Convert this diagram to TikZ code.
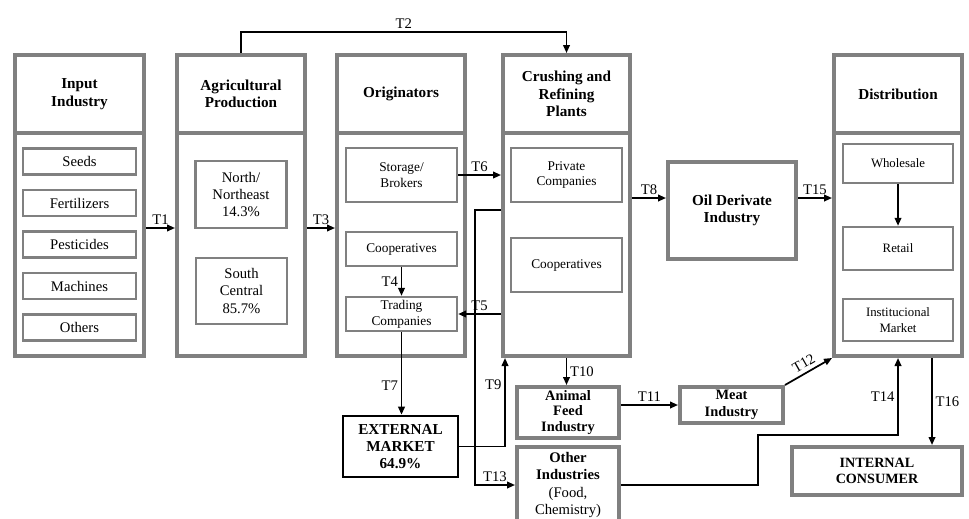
\documentclass[tikz,border=0pt]{standalone}
\usepackage{fontspec}
\setmainfont{Liberation Serif}
\usetikzlibrary{arrows.meta, calc, positioning}

\begin{document}
\begin{tikzpicture}[x=0.75pt, y=-0.75pt]
    % --- Styles ---
    \tikzset{boxsize/.style 2 args={minimum width=#1*0.75pt, minimum height=#2*0.75pt}}
    \tikzstyle{stage_box}=[
        draw=gray,
        line width=3pt,
        fill=white,
        inner sep=1pt,
        align=center,
        font=\fontsize{11.4}{13}\selectfont\bfseries
    ]
    \tikzstyle{sub_box}=[draw=gray, line width=1.8pt, fill=white, inner sep=1pt, align=center, font=\fontsize{11}{12.8}\selectfont]
    \tikzstyle{small_box}=[sub_box, font=\fontsize{10}{11.8}\selectfont]
    \tikzstyle{dist_box}=[sub_box, font=\fontsize{9.6}{11.5}\selectfont]
    \tikzstyle{ext_box}=[stage_box, draw=black, line width=2pt]
    \tikzstyle{flow}=[-{Triangle[length=6pt, width=5pt]}, line width=1.3pt, black]
    \tikzstyle{tlabel}=[font=\fontsize{11}{13}\selectfont, inner sep=2pt]

    \useasboundingbox (0,0) rectangle (969,518);
    \clip (0,0) rectangle (969,518);

    % --- 1. Input Industry ---
    \node[stage_box, boxsize={129}{223}] (inBody) at (79.5,244.5) {};
    \node[stage_box, boxsize={129}{78}] (inHead) at (79.5,94) {Input\\Industry};
    \foreach \name/\txt [count=\i from 0] in {seeds/Seeds, fert/Fertilizers, pest/Pesticides, mach/Machines, others/Others}
        \node[sub_box, boxsize={113}{26}] (\name) at (79.5,161.5+41.5*\i) {\txt};

    % --- 2. Agricultural Production ---
    \node[stage_box, boxsize={128}{223}] (agBody) at (241,244.5) {};
    \node[stage_box, boxsize={128}{78}] (agHead) at (241,94) {Agricultural\\Production};
    \node[sub_box, boxsize={91}{67}] (nne) at (241,194.5) {North/\\Northeast\\14.3\%};
    \node[sub_box, boxsize={91}{66}] (sc) at (241.5,291) {South\\Central\\85.7\%};

    % --- 3. Originators ---
    \node[stage_box, boxsize={128}{223}] (orBody) at (401,244.5) {};
    \node[stage_box, boxsize={128}{78}] (orHead) at (401,94) {Originators};
    \node[small_box, boxsize={111}{54}] (stor) at (401.5,175) {Storage/\\Brokers};
    \node[small_box, boxsize={111}{34}] (coopO) at (401.5,249) {Cooperatives};
    \node[small_box, boxsize={111}{34}, inner sep=0pt] (trad) at (401.5,314) {Trading\\Companies};

    % --- 4. Crushing and Refining Plants ---
    \node[stage_box, boxsize={127}{223}] (crBody) at (566.5,244.5) {};
    \node[stage_box, boxsize={127}{78}] (crHead) at (566.5,94) {Crushing and\\Refining\\Plants};
    \node[small_box, boxsize={111}{54}] (priv) at (566.5,175) {Private\\Companies};
    \node[small_box, boxsize={111}{54}] (coopC) at (566.5,265) {Cooperatives};

    % --- 5. Oil Derivate Industry and Distribution ---
    \node[stage_box, boxsize={128}{97}] (oil) at (732,210.5) {Oil Derivate\\Industry};
    \node[stage_box, boxsize={128}{223}] (diBody) at (898,244.5) {};
    \node[stage_box, boxsize={128}{78}] (diHead) at (898,94) {Distribution};
    \node[dist_box, boxsize={110}{39}] (whole) at (898,163.5) {Wholesale};
    \node[dist_box, boxsize={110}{43}] (retail) at (898,248.5) {Retail};
    \node[dist_box, boxsize={110}{42}] (inst) at (898,320) {Institucional\\Market};

    % --- 6. Lower row ---
    \node[ext_box, boxsize={115}{61}] (ext) at (400.5,446.5) {EXTERNAL\\MARKET\\64.9\%};
    \node[stage_box, boxsize={102}{51}, inner sep=0pt, font=\fontsize{10.8}{11.8}\selectfont\bfseries] (feed) at (568,412.5) {Animal\\Feed\\Industry};
    \node[stage_box, boxsize={102}{76}, inner sep=0pt, font=\fontsize{11}{12.8}\selectfont\bfseries] (other) at (568,485) {Other\\Industries\\\textmd{(Food,}\\\textmd{Chemistry)}};
    \node[stage_box, boxsize={103}{36}, inner sep=0pt, font=\fontsize{10.8}{12.5}\selectfont\bfseries] (meat) at (731.5,405) {Meat\\Industry};
    \node[stage_box, boxsize={170}{48}, font=\fontsize{10.6}{12.5}\selectfont\bfseries] (inter) at (877,471) {INTERNAL\\CONSUMER};

    % --- 7. Flows ---
    \draw[flow] (inBody.east |- 0,228) -- node[above, tlabel] {T1} (agBody.west |- 0,228);
    \draw[flow] (agHead.north) -- (agHead.north |- 0,32) -| node[pos=0.25, above, tlabel] {T2} (crHead.north);
    \draw[flow] (agBody.east |- 0,228) -- node[above, tlabel] {T3} (orBody.west |- 0,228);
    \draw[flow] (coopO.south) -- node[left, tlabel] {T4} (trad.north);
    \draw[flow] (crBody.west |- trad.east) -- node[above, tlabel] {T5} (trad.east);
    \draw[flow] (stor.east) -- node[above, tlabel] {T6} (crBody.west |- stor.east);
    \draw[flow] (trad.south) -- node[pos=0.65, left, tlabel] {T7} (trad.south |- ext.north);
    \draw[flow] (crBody.east |- 0,198) -- node[above, tlabel] {T8} (oil.west |- 0,198);
    \draw[flow] (ext.east) -| node[pos=0.85, left, tlabel] {T9} ([xshift=3pt]crBody.south west);
    \draw[flow] (crBody.south) -- node[right, tlabel] {T10} (crBody.south |- feed.north);
    \draw[flow] (feed.east |- meat.west) -- node[above, tlabel] {T11} (meat.west);
    \draw[flow] (meat.north east) -- node[sloped, above=1pt, tlabel] {T12} (diBody.south west);
    \coordinate (bend13) at ([xshift=6pt]orBody.east |- other.west);
    \draw[flow] (crBody.west |- 0,210) -| (bend13) -- node[above, tlabel] {T13} (other.west);
    \coordinate (bend14) at (758,435);
    \draw[flow] (other.east) -| (bend14) -| node[pos=0.75, left, tlabel] {T14} (diBody.south);
    \draw[flow] (oil.east |- 0,198) -- node[above, tlabel] {T15} (diBody.west |- 0,198);
    \draw[flow] ([xshift=-24pt]diBody.south east) -- node[right, tlabel] {T16} ([xshift=-24pt]diBody.south east |- inter.north);
    \draw[flow] (whole.south) -- (retail.north);

\end{tikzpicture}
\end{document}
